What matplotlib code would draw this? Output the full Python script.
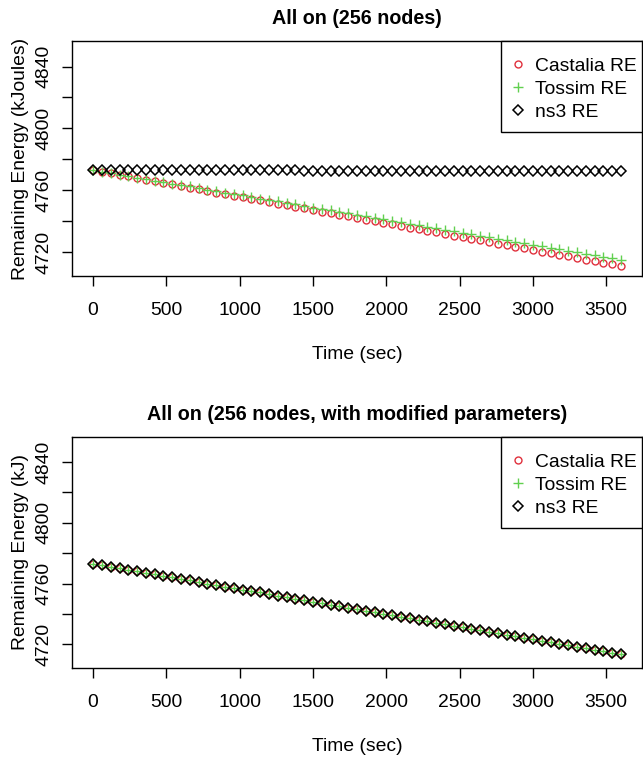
import matplotlib
matplotlib.use("Agg")
import matplotlib.pyplot as plt
from matplotlib.patches import Rectangle

plt.rcParams['font.family'] = ['Liberation Sans', 'DejaVu Sans']

# time axis (sec), one sample every 60 s
time = list(range(0, 3601, 60))

# top panel: All on (256 nodes)
castalia_re = [4773.0, 4772.0, 4770.9, 4769.9, 4768.9, 4767.8, 4766.8, 4765.8, 4764.7, 4763.7,
               4762.7, 4761.6, 4760.6, 4759.6, 4758.5, 4757.5, 4756.5, 4755.4, 4754.4, 4753.4,
               4752.3, 4751.3, 4750.3, 4749.2, 4748.2, 4747.2, 4746.1, 4745.1, 4744.1, 4743.0,
               4742.0, 4741.0, 4739.9, 4738.9, 4737.9, 4736.8, 4735.8, 4734.8, 4733.7, 4732.7,
               4731.7, 4730.6, 4729.6, 4728.6, 4727.5, 4726.5, 4725.5, 4724.4, 4723.4, 4722.4,
               4721.3, 4720.3, 4719.3, 4718.2, 4717.2, 4716.2, 4715.1, 4714.1, 4713.1, 4712.0,
               4711.0]
tossim_re = [4773.0, 4772.0, 4771.1, 4770.1, 4769.1, 4768.2, 4767.2, 4766.2, 4765.3, 4764.3,
             4763.3, 4762.4, 4761.4, 4760.4, 4759.5, 4758.5, 4757.5, 4756.6, 4755.6, 4754.6,
             4753.7, 4752.7, 4751.7, 4750.8, 4749.8, 4748.8, 4747.9, 4746.9, 4745.9, 4745.0,
             4744.0, 4743.0, 4742.1, 4741.1, 4740.1, 4739.2, 4738.2, 4737.2, 4736.3, 4735.3,
             4734.3, 4733.4, 4732.4, 4731.4, 4730.5, 4729.5, 4728.5, 4727.6, 4726.6, 4725.6,
             4724.7, 4723.7, 4722.7, 4721.8, 4720.8, 4719.8, 4718.9, 4717.9, 4716.9, 4716.0,
             4715.0]
ns3_re = [4773.0, 4773.0, 4773.0, 4773.0, 4773.0, 4773.0, 4772.9, 4772.9, 4772.9, 4772.9,
          4772.9, 4772.9, 4772.9, 4772.9, 4772.9, 4772.8, 4772.8, 4772.8, 4772.8, 4772.8,
          4772.8, 4772.8, 4772.8, 4772.8, 4772.7, 4772.7, 4772.7, 4772.7, 4772.7, 4772.7,
          4772.7, 4772.7, 4772.7, 4772.6, 4772.6, 4772.6, 4772.6, 4772.6, 4772.6, 4772.6,
          4772.6, 4772.6, 4772.5, 4772.5, 4772.5, 4772.5, 4772.5, 4772.5, 4772.5, 4772.5,
          4772.4, 4772.4, 4772.4, 4772.4, 4772.4, 4772.4, 4772.4, 4772.4, 4772.3, 4772.3,
          4772.3]

# bottom panel: modified parameters, all three simulators agree
mod_re = [4773.0, 4772.0, 4771.0, 4770.0, 4769.0, 4768.0, 4767.0, 4766.1, 4765.1, 4764.1,
          4763.1, 4762.1, 4761.1, 4760.1, 4759.1, 4758.1, 4757.1, 4756.1, 4755.2, 4754.2,
          4753.2, 4752.2, 4751.2, 4750.2, 4749.2, 4748.2, 4747.2, 4746.2, 4745.2, 4744.2,
          4743.2, 4742.3, 4741.3, 4740.3, 4739.3, 4738.3, 4737.3, 4736.3, 4735.3, 4734.3,
          4733.3, 4732.3, 4731.3, 4730.4, 4729.4, 4728.4, 4727.4, 4726.4, 4725.4, 4724.4,
          4723.4, 4722.4, 4721.4, 4720.4, 4719.4, 4718.5, 4717.5, 4716.5, 4715.5, 4714.5,
          4713.5]
mod_castalia_re = mod_re
mod_tossim_re = mod_re
mod_ns3_re = mod_re

labels = ['Castalia RE', 'Tossim RE', 'ns3 RE']
red = '#E0303C'
green = '#61D04F'
yticks = list(range(4720, 4841, 20))

W, H = 643, 765
FS = 13.9
fig = plt.figure(figsize=(W / 100, H / 100), dpi=100)
ax1 = fig.add_axes([72 / W, 1 - 276 / H, 570 / W, 235 / H])
ax2 = fig.add_axes([72 / W, 1 - 668 / H, 570 / W, 231 / H])


def panel(ax, c, t, n, title, ylabel, top, bot):
    h = bot - top
    ax.plot(time, c, 'o', ls='none', ms=5, mfc='none', mec=red, mew=1, label=labels[0])
    ax.plot(time, t, '+', ls='none', ms=7.5, mec=green, mew=1, label=labels[1])
    ax.plot(time, n, 'D', ls='none', ms=4.6, mfc='none', mec='black', mew=1.1, label=labels[2])
    ax.set_xlim(-144, 3744)
    ax.set_ylim(4704.5, 4856.5)
    ax.set_xticks(range(0, 3501, 500))
    ax.set_yticks(yticks)
    ax.set_yticklabels([str(v) if v % 40 == 0 else '' for v in yticks],
                       rotation=90, va='center')
    ax.tick_params(labelsize=FS, length=7, width=1)
    ax.tick_params(axis='x', pad=12)
    ax.tick_params(axis='y', pad=7)
    for s in ax.spines.values():
        s.set_linewidth(1)
    ax.set_xlabel('Time (sec)', fontsize=FS)
    ax.set_ylabel(ylabel, fontsize=FS)
    ax.xaxis.set_label_coords(0.5, -70 / h)
    ax.yaxis.set_label_coords((29 - 72) / 570, 0.5)
    ax.text(0.5, 1 + 23 / h, title, transform=ax.transAxes,
            ha='center', va='center', fontsize=14.2, fontweight='bold')

    # legend box drawn as its own rectangle (R style: 141 x 91 px at top right)
    ax.add_patch(Rectangle((1 - 141 / 570, 1 - 91 / h), 141 / 570, 91 / h,
                           transform=ax.transAxes, facecolor='white', edgecolor='black',
                           lw=1, zorder=4, clip_on=False))
    leg = ax.legend(loc='upper left', bbox_to_anchor=((512 - 72) / 570, 1 - 16 / h),
                    frameon=False, fontsize=FS, handlelength=0.6, handletextpad=0.58,
                    labelspacing=0.3, borderpad=0, borderaxespad=0)
    leg.set_zorder(5)


panel(ax1, castalia_re, tossim_re, ns3_re, 'All on (256 nodes)',
      'Remaining Energy (kJoules)', 41, 276)
panel(ax2, mod_castalia_re, mod_tossim_re, mod_ns3_re,
      'All on (256 nodes, with modified parameters)', 'Remaining Energy (kJ)', 437, 668)

fig.savefig('out.png', dpi=100)
